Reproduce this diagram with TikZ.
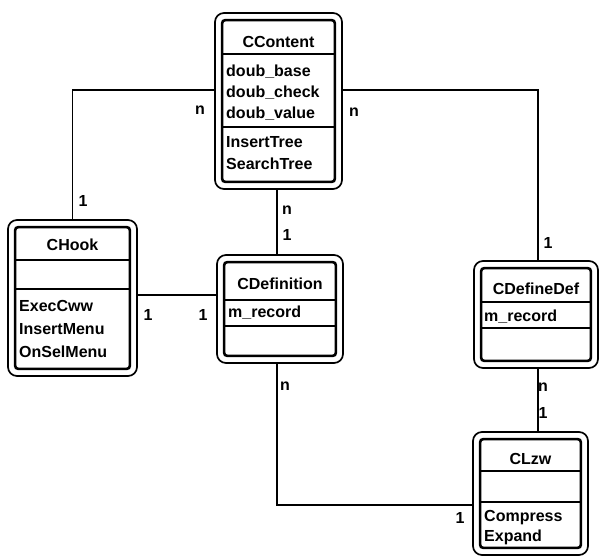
\documentclass[tikz,border=0pt]{standalone}
\usepackage{fontspec}
\setmainfont{Liberation Sans}
\begin{document}
\begin{tikzpicture}[x=1pt,y=-1pt,
  outerbox/.style={draw, line width=1.7pt, rounded corners=9pt, inner sep=0pt},
  innerbox/.style={draw, line width=2.6pt, rounded corners=3pt},
  sep/.style={line width=1.7pt},
  link/.style={line width=1.5pt},
  txt/.style={inner sep=0pt, font=\fontsize{16}{16}\selectfont\bfseries},
  field/.style={txt, anchor=west},
  mult/.style={txt}]
\useasboundingbox (0,0) rectangle (599,559);

% class frames (outer rounded border)
\node[outerbox, minimum width=127pt, minimum height=176pt] (content)    at (278.5,101) {};
\node[outerbox, minimum width=129pt, minimum height=156pt] (hook)       at (72.5,298) {};
\node[outerbox, minimum width=126pt, minimum height=108pt] (definition) at (280,309) {};
\node[outerbox, minimum width=124pt, minimum height=107pt] (defdef)     at (536,314.5) {};
\node[outerbox, minimum width=115pt, minimum height=123pt] (clzw)       at (530.5,493.5) {};

% inner frames
\foreach \n in {content,hook,definition,defdef,clzw}
  \draw[innerbox] ([shift={(8,8)}]\n.north west) rectangle ([shift={(-8,-8)}]\n.south east);

% CContent
\node[txt] (t1) at (278.5,42) {CContent};
\draw[sep] (223,54) -- (334,54);
\node[field] at (226,72)  {doub\_base};
\node[field] at (226,93)  {doub\_check};
\node[field] at (226,114) {doub\_value};
\draw[sep] (223,127) -- (334,127);
\node[field] at (226,142) {InsertTree};
\node[field] at (226,164) {SearchTree};

% CHook
\node[txt] at (72.5,245) {CHook};
\draw[sep] (16,260) -- (129,260);
\draw[sep] (16,289) -- (129,289);
\node[field] at (19,306) {ExecCww};
\node[field] at (19,329) {InsertMenu};
\node[field] at (19,352) {OnSelMenu};

% CDefinition
\node[txt] at (280,284) {CDefinition};
\draw[sep] (225,300) -- (335,300);
\node[field] at (228,313) {m\_record};
\draw[sep] (225,326) -- (335,326);

% CDefineDef
\node[txt] at (536,289) {CDefineDef};
\draw[sep] (482,302) -- (590,302);
\node[field] at (484,317) {m\_record};
\draw[sep] (482,328) -- (590,328);

% CLzw
\node[txt] at (530.5,459) {CLzw};
\draw[sep] (481,471) -- (580,471);
\draw[sep] (481,502) -- (580,502);
\node[field] at (484,518) {Compress};
\node[field] at (484,537) {Expand};

% connector routing lines
\coordinate (rowtop) at (0,90);
\coordinate (rowmid) at (0,295);
\coordinate (rowlow) at (0,505);
\coordinate (colx) at (277,0);
\coordinate (colr) at (538,0);

\draw[link] (content.west |- rowtop) -| (hook.north);
\draw[link] (content.east |- rowtop) -| (colr |- defdef.north);
\draw[link] (colx |- content.south) -- (colx |- definition.north);
\draw[link] (hook.east |- rowmid) -- (definition.west |- rowmid);
\draw[link] (colx |- definition.south) |- (clzw.west |- rowlow);
\draw[link] (colr |- defdef.south) -- (colr |- clzw.north);

% multiplicities
\node[mult] at (200,110) {n};
\node[mult] at (354,112) {n};
\node[mult] at (83,201) {1};
\node[mult] at (548,243) {1};
\node[mult] at (287,210) {n};
\node[mult] at (287,235) {1};
\node[mult] at (148,315) {1};
\node[mult] at (203,315) {1};
\node[mult] at (285,386) {n};
\node[mult] at (543,387) {n};
\node[mult] at (543,413) {1};
\node[mult] at (460,518) {1};
\end{tikzpicture}
\end{document}
